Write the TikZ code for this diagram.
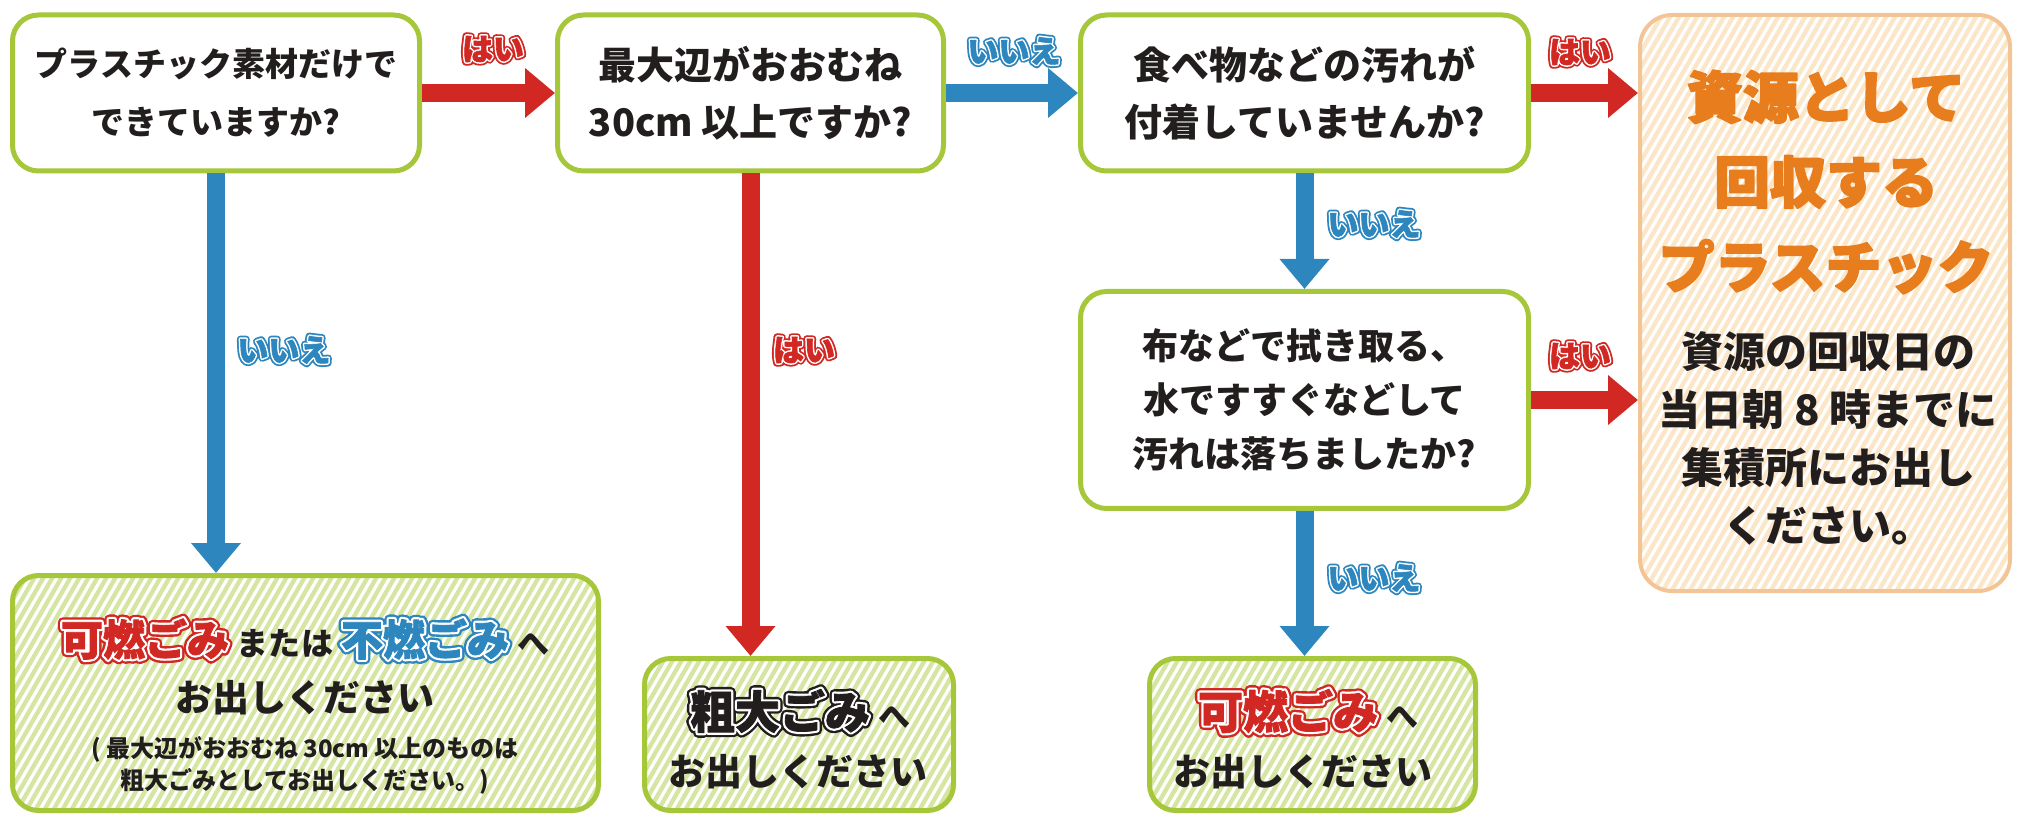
\documentclass[tikz,border=0pt]{standalone}
\usepackage{fontspec}
\newfontfamily\jp{Noto Sans CJK JP}
\usetikzlibrary{arrows.meta,calc}
\definecolor{gborder}{RGB}{166,199,58}
\definecolor{gfill}{RGB}{214,230,162}
\definecolor{ofill}{RGB}{252,230,200}
\definecolor{oborder}{RGB}{242,196,150}
\definecolor{otext}{RGB}{232,125,30}
\definecolor{ared}{RGB}{210,40,35}
\definecolor{ablue}{RGB}{45,135,190}
\definecolor{txt}{RGB}{35,30,30}
% outlined ("bubble") lettering: colour, outer stroke, white stroke, top stroke, text
\newcommand\bubble[5]{%
 \rlap{\color{#1}\special{pdf:literal direct q 2 Tr #2 w 1 j}#5\special{pdf:literal direct Q}}%
 \rlap{\color{white}\special{pdf:literal direct q 2 Tr #3 w 1 j}#5\special{pdf:literal direct Q}}%
 {\color{#1}\special{pdf:literal direct q 2 Tr #4 w 1 j}#5\special{pdf:literal direct Q}}}
% heavier lettering: stroke width, text
\newcommand\heavy[2]{\special{pdf:literal direct q 2 Tr #1 w 1 j}#2\special{pdf:literal direct Q}}
\newcommand\fs[2]{\fontsize{#1pt}{#2pt}\selectfont}
\newcommand\biglab[2]{\bubble{#1}{5}{2.6}{0.4}{#2}}
\newcommand\smlab[2]{\bubble{#1}{3.6}{1.8}{0.3}{#2}}
\tikzset{
 hatch/.style={path picture={\foreach \k in {-45,...,80}{\draw[white,line width=1.6pt] ($(path picture bounding box.south west)+(\k*9,0)$) -- ++(350,-606);}}},
 qbox/.style={draw=gborder,line width=2.5pt,rounded corners=13pt,fill=white,inner sep=0pt,align=center,text=txt},
 gbox/.style={draw=gborder,line width=2.5pt,rounded corners=13pt,fill=gfill,inner sep=0pt,hatch},
 obox/.style={draw=oborder,line width=2pt,rounded corners=16pt,fill=ofill,inner sep=0pt,hatch},
 txtnode/.style={inner sep=0pt,align=center,text=txt},
 lab/.style={inner sep=0pt,font=\jp\bfseries\fs{15.5}{15.5}},
 redarrow/.style={draw=ared,line width=9pt,-{Triangle[width=24pt,length=15pt]}},
 bluearrow/.style={draw=ablue,line width=9pt,-{Triangle[width=24pt,length=15pt]}},
}
\begin{document}
\begin{tikzpicture}[x=0.5pt,y=-0.5pt]
\useasboundingbox (0,0) rectangle (2017,817);
% question boxes
\node[qbox,minimum width=203.5pt,minimum height=78pt,font=\jp\bfseries\fs{16.5}{29}] (Q1) at (216,93)
  {プラスチック素材だけで\\できていますか?};
\node[qbox,minimum width=193pt,minimum height=78pt,font=\jp\bfseries\fs{19}{28.5}] (Q2) at (750.5,93)
  {最大辺がおおむね\\30cm 以上ですか?};
\node[qbox,minimum width=224pt,minimum height=78pt,font=\jp\bfseries\fs{19}{28.5}] (Q3) at (1304.5,93)
  {食べ物などの汚れが\\付着していませんか?};
\node[qbox,minimum width=224pt,minimum height=108.5pt,font=\jp\bfseries\fs{18}{27}] (Q4) at (1304.5,400)
  {布などで拭き取る、\\水ですすぐなどして\\汚れは落ちましたか?};
% result boxes
\node[obox,minimum width=185pt,minimum height=288pt] (O) at (1825,303) {};
\node[gbox,minimum width=293pt,minimum height=117.5pt] (A) at (305.5,693) {};
\node[gbox,minimum width=154.5pt,minimum height=76pt] (B) at (799,734.5) {};
\node[gbox,minimum width=163pt,minimum height=76pt] (C) at (1312.5,734.5) {};
% texts in result boxes
\node[inner sep=0pt,align=center,text=otext,font=\jp\bfseries\fs{28}{42.5}] (Ot) at (1826,182)
  {\heavy{0.9}{資源として}\\\heavy{0.9}{回収する}\\\heavy{0.9}{プラスチック}};
\node[txtnode,font=\jp\bfseries\fs{21}{29}] (Os) at (1828,438)
  {資源の回収日の\\当日朝 8 時までに\\集積所にお出し\\ください。};
\node[txtnode,font=\jp\bfseries] (A1) at (305,639)
  {{\fs{21}{21}\biglab{ared}{可燃ごみ}}\hspace{4pt}{\fs{16}{16}または}\hspace{4pt}{\fs{21}{21}\biglab{ablue}{不燃ごみ}}\hspace{4pt}{\fs{16}{16}へ}};
\node[txtnode,font=\jp\bfseries\fs{18.5}{18.5}] (A2) at (305,698) {お出しください};
\node[txtnode,font=\jp\bfseries\fs{12}{16}] (A3) at (305,765)
  {( 最大辺がおおむね 30cm 以上のものは\\粗大ごみとしてお出しください。)};
\node[txtnode,font=\jp\bfseries] (B1) at (800,711)
  {{\fs{22.5}{22.5}\biglab{txt}{粗大ごみ}}\hspace{4pt}{\fs{16}{16}へ}};
\node[txtnode,font=\jp\bfseries\fs{18.5}{18.5}] (B2) at (798,772) {お出しください};
\node[txtnode,font=\jp\bfseries] (C1) at (1308,711)
  {{\fs{22.5}{22.5}\biglab{ared}{可燃ごみ}}\hspace{4pt}{\fs{16}{16}へ}};
\node[txtnode,font=\jp\bfseries\fs{18.5}{18.5}] (C2) at (1303,772) {お出しください};
% connectors
\draw[redarrow] (Q1.east) -- (Q2.west);
\draw[bluearrow] (Q2.east) -- (Q3.west);
\draw[redarrow] (Q3.east) -- (Q3.east -| O.west);
\draw[redarrow] (Q4.east) -- (Q4.east -| O.west);
\draw[bluearrow] (Q1.south) -- (Q1.south |- A.north);
\draw[redarrow] (Q2.south) -- (Q2.south |- B.north);
\draw[bluearrow] (Q3.south) -- (Q4.north);
\draw[bluearrow] (Q4.south) -- (Q4.south |- C.north);
% connector labels
\node[lab] (L1) at (493,49) {\smlab{ared}{はい}};
\node[lab] (L2) at (1014,51) {\smlab{ablue}{いいえ}};
\node[lab] (L3) at (1580,52) {\smlab{ared}{はい}};
\node[lab] (L4) at (284,350) {\smlab{ablue}{いいえ}};
\node[lab] (L5) at (804,350) {\smlab{ared}{はい}};
\node[lab] (L6) at (1374,224) {\smlab{ablue}{いいえ}};
\node[lab] (L7) at (1580,356) {\smlab{ared}{はい}};
\node[lab] (L8) at (1374,578) {\smlab{ablue}{いいえ}};
\end{tikzpicture}
\end{document}
